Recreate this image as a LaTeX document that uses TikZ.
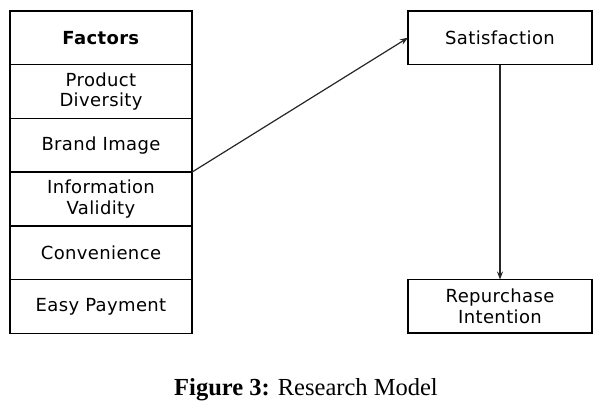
\documentclass[tikz,border=0pt]{standalone}
\usepackage{fontspec}
\setmainfont{Liberation Serif}
\newfontfamily\boxfont[LetterSpace=2]{DejaVu Sans}
\usetikzlibrary{arrows.meta}
\begin{document}
\begin{tikzpicture}[x=1pt,y=-1pt,
  cell/.style={draw=black,line width=1.4pt,minimum width=182pt,minimum height=53.7pt,inner sep=0pt,outer sep=0pt,align=center,
    font=\boxfont\fontsize{18}{20.5}\selectfont},
  bigbox/.style={cell,minimum width=184pt,minimum height=53.5pt},
  conn/.style={line width=1.2pt,draw=black!85,-{Stealth[length=8pt,width=6pt]}}]
\useasboundingbox (0,0) rectangle (604,415);
\node[cell] (f0) at (101,37.85) {\textbf{Factors}};
\node[cell,anchor=north] (f1) at (f0.south) {Product\\Diversity};
\node[cell,anchor=north] (f2) at (f1.south) {Brand Image};
\node[cell,anchor=north] (f3) at (f2.south) {Information\\Validity};
\node[cell,anchor=north] (f4) at (f3.south) {Convenience};
\node[cell,anchor=north] (f5) at (f4.south) {Easy Payment};
\node[bigbox] (sat) at (500,37.75) {Satisfaction};
\node[bigbox] (rep) at (500,306.25) {Repurchase\\Intention};
\draw[conn] (f2.south east) -- (sat.west);
\draw[conn] (sat.south) -- (rep.north);
\node[font=\fontsize{24.5}{28}\selectfont] (cap) at (306,390) {\textbf{Figure 3:} Research Model};
\end{tikzpicture}
\end{document}
